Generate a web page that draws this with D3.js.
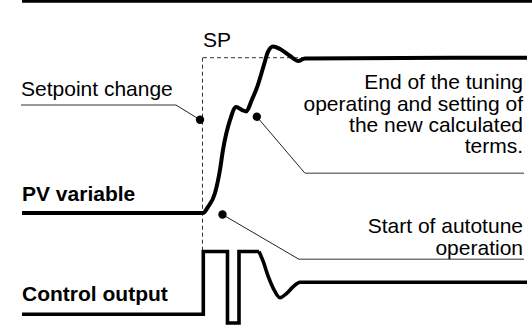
<!DOCTYPE html>
<html>
<head>
<meta charset="utf-8">
<script src="https://cdn.jsdelivr.net/npm/d3@7"></script>
<style>
  html, body { margin: 0; padding: 0; background: #fff; }
  svg { display: block; }
  text { font-family: "Liberation Sans", Arial, sans-serif; fill: #000; }
</style>
</head>
<body>
<svg id="chart" width="532" height="327"></svg>
<script>
// ---- Data (schematic autotune response) ----
// Process variable (PV), normalized: 0 = initial value, 1 = setpoint
const pvTime  = [0, 35.84, 36.83, 38.22, 39.2, 39.8, 41.2, 42.4, 43.6, 44.4, 45.5, 46.7, 47.9, 48.7, 49.7, 51.1, 53.1, 54.7, 56.0, 100];
const pvValue = [0, 0, 0.039, 0.129, 0.277, 0.406, 0.599, 0.683, 0.663, 0.654, 0.728, 0.824, 0.953, 1.037, 1.072, 1.056, 1.011, 0.979, 0.995, 1.0];

// Setpoint step
const spTime  = [35.84, 56.0];
const spValue = [1, 1];

// Control output: relay pulses (step) then settling (smooth)
const coStepTime  = [0, 35.9, 40.69, 42.97, 46.93];
const coStepValue = [0, 1, -0.139, 1, 1];
const coSettleTime  = [46.93, 47.78, 48.77, 49.76, 51.09, 52.42, 53.72, 55.05, 100];
const coSettleValue = [1, 0.838, 0.599, 0.414, 0.264, 0.334, 0.44, 0.51, 0.51];

// Annotations
const labelLeft = ["Setpoint change"];
const labelEnd = ["End of the tuning", "operating and setting of", "the new calculated", "terms."];
const labelStart = ["Start of autotune", "operation"];
const seriesLabels = ["PV variable", "Control output"];
const spLabel = "SP";
const anchorSetpoint = [35.25, 0.60];
const anchorEnd = [46.5, 0.62];
const anchorStart = [39.7, -0.01];

// ---- Scales ----
const x = d3.scaleLinear().domain([0, 100]).range([22, 527]);
const yPV = d3.scaleLinear().domain([0, 1]).range([213, 57.7]);
const yCO = d3.scaleLinear().domain([0, 1]).range([314.3, 251.5]);

const svg = d3.select("#chart");
const FS = 21;

function label(px, py, str, opts = {}) {
  const t = svg.append("text")
    .attr("x", px).attr("y", py)
    .attr("font-size", FS)
    .text(str);
  if (opts.bold) t.attr("font-weight", "bold");
  if (opts.end) t.attr("text-anchor", "end");
  return t;
}

// top rule
svg.append("line").attr("x1", 22).attr("x2", 532).attr("y1", 1.2).attr("y2", 1.2)
  .attr("stroke", "#000").attr("stroke-width", 3);

// ---- SP dashed lines ----
const dash = "4,3";
svg.append("line")
  .attr("x1", x(spTime[0])).attr("x2", x(spTime[1]))
  .attr("y1", yPV(spValue[0])).attr("y2", yPV(spValue[1]))
  .attr("stroke", "#333").attr("stroke-width", 1).attr("stroke-dasharray", dash);
svg.append("line")
  .attr("x1", x(spTime[0]) - 0.5).attr("x2", x(spTime[0]) - 0.5)
  .attr("y1", yPV(1)).attr("y2", yCO(1))
  .attr("stroke", "#333").attr("stroke-width", 1).attr("stroke-dasharray", dash);

label(x(spTime[0]), 47, spLabel);

// ---- PV curve ----
const pvData = pvTime.map((t, i) => [t, pvValue[i]]);
svg.append("path").datum(pvData)
  .attr("fill", "none").attr("stroke", "#000").attr("stroke-width", 4)
  .attr("stroke-linecap", "butt")
  .attr("d", d3.line().x(d => x(d[0])).y(d => yPV(d[1])).curve(d3.curveMonotoneX));

// ---- Control output ----
const coStep = coStepTime.map((t, i) => [t, coStepValue[i]]);
svg.append("path").datum(coStep)
  .attr("fill", "none").attr("stroke", "#000").attr("stroke-width", 3.6)
  .attr("stroke-linejoin", "miter").attr("stroke-linecap", "butt")
  .attr("d", d3.line().x(d => x(d[0])).y(d => yCO(d[1])).curve(d3.curveStepAfter));
const coSettle = coSettleTime.map((t, i) => [t, coSettleValue[i]]);
svg.append("path").datum(coSettle)
  .attr("fill", "none").attr("stroke", "#000").attr("stroke-width", 3.6)
  .attr("stroke-linecap", "butt")
  .attr("d", d3.line().x(d => x(d[0])).y(d => yCO(d[1])).curve(d3.curveMonotoneX));

// ---- Series labels ----
label(22, 200.7, seriesLabels[0], { bold: true });
label(22, 300.7, seriesLabels[1], { bold: true });

// ---- Annotations ----
function leader(anchor, elbow, endX, yScale) {
  const ax = x(anchor[0]), ay = yScale(anchor[1]);
  svg.append("line").attr("x1", ax).attr("y1", ay).attr("x2", elbow[0]).attr("y2", elbow[1])
    .attr("stroke", "#222").attr("stroke-width", 1);
  svg.append("line").attr("x1", elbow[0]).attr("y1", elbow[1]).attr("x2", endX).attr("y2", elbow[1])
    .attr("stroke", "#777").attr("stroke-width", 1.6);
  svg.append("circle").attr("cx", ax).attr("cy", ay).attr("r", 4.2).attr("fill", "#000");
}
leader(anchorSetpoint, [176, 105], 21, yPV);
leader(anchorEnd, [305, 173.3], 524, yPV);
leader(anchorStart, [299, 259.3], 524, yPV);

label(21, 95.5, labelLeft[0]);
labelEnd.forEach((s, i) => label(523, 89.3 + i * 21.3, s, { end: true }));
labelStart.forEach((s, i) => label(523, 233.3 + i * 21.3, s, { end: true }));
</script>
</body>
</html>
